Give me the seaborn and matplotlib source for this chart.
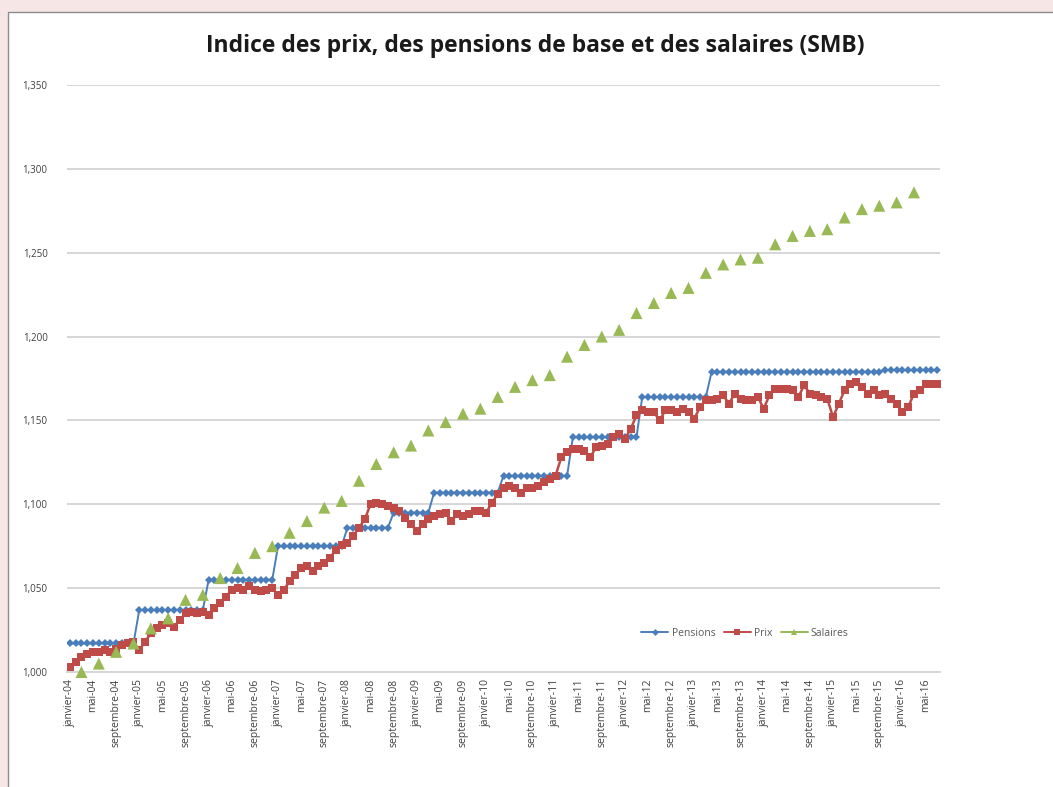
import matplotlib
matplotlib.use("Agg")
import matplotlib.pyplot as plt
from matplotlib.lines import Line2D
from matplotlib.patches import Rectangle
from matplotlib.ticker import FuncFormatter
import seaborn as sns
import pandas as pd
import numpy as np

# ---------------- data ----------------
mois_fr = ["janvier", "février", "mars", "avril", "mai", "juin", "juillet",
           "août", "septembre", "octobre", "novembre", "décembre"]
annees = ["04", "05", "06", "07", "08", "09", "10", "11", "12", "13", "14", "15", "16"]
categories = [f"{m}-{a}" for a in annees for m in mois_fr][:151]  # janvier-04 .. juillet-16

pensions = [
    1.017, 1.017, 1.017, 1.017, 1.017, 1.017, 1.017, 1.017, 1.017, 1.017, 1.017, 1.017,
    1.037, 1.037, 1.037, 1.037, 1.037, 1.037, 1.037, 1.037, 1.037, 1.037, 1.037, 1.037,
    1.055, 1.055, 1.055, 1.055, 1.055, 1.055, 1.055, 1.055, 1.055, 1.055, 1.055, 1.055,
    1.075, 1.075, 1.075, 1.075, 1.075, 1.075, 1.075, 1.075, 1.075, 1.075, 1.075, 1.075,
    1.086, 1.086, 1.086, 1.086, 1.086, 1.086, 1.086, 1.086, 1.095, 1.095, 1.095, 1.095,
    1.095, 1.095, 1.095, 1.107, 1.107, 1.107, 1.107, 1.107, 1.107, 1.107, 1.107, 1.107,
    1.107, 1.107, 1.107, 1.117, 1.117, 1.117, 1.117, 1.117, 1.117, 1.117, 1.117, 1.117,
    1.117, 1.117, 1.117, 1.140, 1.140, 1.140, 1.140, 1.140, 1.140, 1.140, 1.140, 1.140,
    1.140, 1.140, 1.140, 1.164, 1.164, 1.164, 1.164, 1.164, 1.164, 1.164, 1.164, 1.164,
    1.164, 1.164, 1.164, 1.179, 1.179, 1.179, 1.179, 1.179, 1.179, 1.179, 1.179, 1.179,
    1.179, 1.179, 1.179, 1.179, 1.179, 1.179, 1.179, 1.179, 1.179, 1.179, 1.179, 1.179,
    1.179, 1.179, 1.179, 1.179, 1.179, 1.179, 1.179, 1.179, 1.179, 1.180, 1.180, 1.180,
    1.180, 1.180, 1.180, 1.180, 1.180, 1.180, 1.180,
]

prix = [
    1.003, 1.006, 1.009, 1.011, 1.012, 1.012, 1.013, 1.012, 1.014, 1.016, 1.017, 1.018,
    1.013, 1.018, 1.023, 1.026, 1.028, 1.029, 1.027, 1.031, 1.035, 1.036, 1.035, 1.036,
    1.034, 1.038, 1.041, 1.045, 1.049, 1.050, 1.049, 1.051, 1.049, 1.048, 1.049, 1.050,
    1.046, 1.049, 1.054, 1.058, 1.062, 1.063, 1.060, 1.063, 1.065, 1.068, 1.073, 1.076,
    1.077, 1.081, 1.086, 1.091, 1.100, 1.101, 1.100, 1.099, 1.098, 1.096, 1.092, 1.088,
    1.084, 1.088, 1.091, 1.093, 1.094, 1.095, 1.090, 1.094, 1.093, 1.094, 1.096, 1.096,
    1.095, 1.101, 1.106, 1.110, 1.111, 1.110, 1.107, 1.110, 1.110, 1.111, 1.113, 1.115,
    1.117, 1.128, 1.131, 1.133, 1.133, 1.132, 1.128, 1.134, 1.135, 1.136, 1.140, 1.142,
    1.139, 1.145, 1.153, 1.156, 1.155, 1.155, 1.150, 1.156, 1.156, 1.155, 1.157, 1.155,
    1.151, 1.158, 1.162, 1.162, 1.163, 1.165, 1.160, 1.166, 1.163, 1.162, 1.162, 1.164,
    1.157, 1.165, 1.169, 1.169, 1.169, 1.168, 1.164, 1.171, 1.166, 1.165, 1.164, 1.163,
    1.152, 1.160, 1.168, 1.172, 1.173, 1.170, 1.166, 1.168, 1.165, 1.166, 1.163, 1.160,
    1.155, 1.158, 1.166, 1.168, 1.172, 1.172, 1.172,
]

# quarterly wages index (mars-04 .. mars-16)
salaires = [
    1.000, 1.005, 1.012, 1.017, 1.026, 1.032, 1.043, 1.046, 1.056, 1.062,
    1.071, 1.075, 1.083, 1.090, 1.098, 1.102, 1.114, 1.124, 1.131, 1.135,
    1.144, 1.149, 1.154, 1.157, 1.164, 1.170, 1.174, 1.177, 1.188, 1.195,
    1.200, 1.204, 1.214, 1.220, 1.226, 1.229, 1.238, 1.243, 1.246, 1.247,
    1.255, 1.260, 1.263, 1.264, 1.271, 1.276, 1.278, 1.280, 1.286,
]
salaires_mois = categories[2::3][:len(salaires)]  # mars, juin, septembre, décembre

yticks = [1.000, 1.050, 1.100, 1.150, 1.200, 1.250, 1.300, 1.350]

# ---------------- style ----------------
sns.set_theme(style="white")
FONT = ["Open Sans", "DejaVu Sans"]
plt.rcParams["font.family"] = FONT

C_PENS = "#4A7EBB"
C_PRIX = "#BE4B48"
C_SAL = "#98B954"

pos = {c: i for i, c in enumerate(categories)}
df = pd.DataFrame({"x": np.arange(len(categories)), "mois": categories,
                   "Pensions": pensions, "Prix": prix})
df_sal = pd.DataFrame({"x": [pos[m] for m in salaires_mois], "Salaires": salaires})

fig = plt.figure(figsize=(10.53, 7.87), dpi=100)
fig.patch.set_facecolor("#F7E6E6")
panel = Rectangle((8 / 1053, -0.01), 1.1, 1 - 12 / 787 + 0.01,
                  transform=fig.transFigure, facecolor="white",
                  edgecolor="#8C8C8C", linewidth=1.0, zorder=-10)
fig.patches.append(panel)

ax = fig.add_axes([67 / 1053, 1 - 672 / 787, (940 - 67) / 1053, (672 - 85) / 787])
ax.set_zorder(1)
ax.set_facecolor("white")

sns.lineplot(data=df, x="x", y="Pensions", ax=ax, color=C_PENS, linewidth=1.4,
             marker="D", markersize=4.0, markeredgewidth=0, markerfacecolor=C_PENS,
             zorder=3, legend=False)
sns.lineplot(data=df, x="x", y="Prix", ax=ax, color=C_PRIX, linewidth=1.8,
             marker="s", markersize=5.8, markeredgewidth=0, markerfacecolor=C_PRIX,
             zorder=4, legend=False)
sns.scatterplot(data=df_sal, x="x", y="Salaires", ax=ax, color=C_SAL, marker="^",
                s=75, edgecolor="none", zorder=5, legend=False, clip_on=False)

ax.set_xlim(-0.5, len(categories) - 0.5)
ax.set_ylim(1.0, 1.35)
ax.set_yticks(yticks)
ax.yaxis.set_major_formatter(FuncFormatter(lambda v, p: f"{v:.3f}".replace(".", ",")))
ax.set_xticks(np.arange(0, len(categories), 4))
ax.set_xticklabels(categories[::4], rotation=90, fontsize=7.5, color="#404040",
                   va="top", ha="center")
ax.tick_params(axis="y", labelsize=7, labelcolor="#404040", length=0, pad=14)
ax.tick_params(axis="x", length=0, pad=5)
ax.set_xlabel("")
ax.set_ylabel("")

ax.grid(axis="y", color="#D6D6D6", linewidth=1.4)
ax.grid(axis="x", visible=False)
for s in ["top", "right", "left"]:
    ax.spines[s].set_visible(False)
ax.spines["bottom"].set_color("#D6D6D6")
ax.spines["bottom"].set_linewidth(1.4)

fig.text(535 / 1053, 1 - 46 / 787,
         "Indice des prix, des pensions de base et des salaires (SMB)",
         ha="center", va="center", fontsize=16.5, fontweight="bold", color="#1a1a1a")

handles = [
    Line2D([], [], color=C_PENS, marker="D", markersize=3.5, markeredgewidth=0, linewidth=1.4),
    Line2D([], [], color=C_PRIX, marker="s", markersize=5, markeredgewidth=0, linewidth=1.4),
    Line2D([], [], color=C_SAL, marker="^", markersize=4.5, markeredgewidth=0, linewidth=1.4),
]
leg = ax.legend(handles, ["Pensions", "Prix", "Salaires"], loc="center",
                bbox_to_anchor=((745 - 67) / (940 - 67), (672 - 633) / (672 - 85)),
                ncol=3, frameon=False, fontsize=7.5, handlelength=2.6,
                handletextpad=0.3, columnspacing=0.8, labelcolor="#595959")

fig.savefig("out.png", dpi=100, facecolor=fig.get_facecolor())
